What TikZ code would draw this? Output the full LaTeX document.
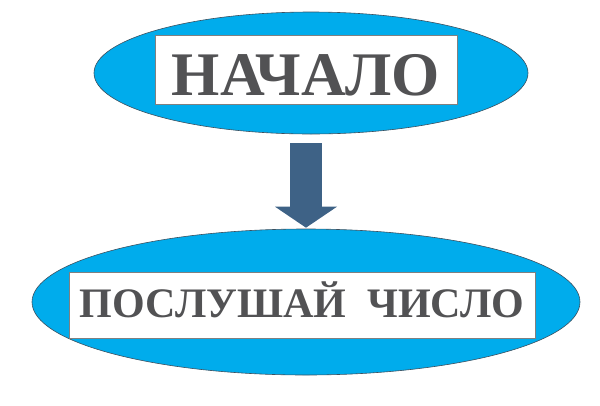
\documentclass[tikz,border=0pt]{standalone}
\usepackage{fontspec}
\setmainfont{Liberation Serif}
\usetikzlibrary{shapes.geometric,arrows.meta,positioning}
\definecolor{skyfill}{RGB}{0,172,236}
\definecolor{rimgray}{RGB}{60,80,95}
\definecolor{arrowblue}{RGB}{62,98,134}
\definecolor{inkgray}{RGB}{82,82,84}

\begin{document}
\begin{tikzpicture}[x=1pt,y=-1pt,
  oval/.style={ellipse, draw=rimgray, line width=0.6pt, fill=skyfill, inner sep=0pt},
  plate/.style={rectangle, draw=gray, line width=0.6pt, fill=white, inner sep=0pt, anchor=base, text=inkgray},
  flow/.style={arrowblue, line width=32pt, -{Triangle[width=61pt,length=21pt]}}]
\useasboundingbox (0,0) rectangle (600,405);
\node[oval, minimum width=434pt, minimum height=122pt] (start) at (311,73) {};
\node[oval, minimum width=548pt, minimum height=146pt] (listen) at (306,302) {};
\node[plate, minimum width=302pt, text height=60pt, text depth=9pt, font=\bfseries\fontsize{62}{62}\selectfont] (startlabel) at (306,95) {НАЧАЛО};
\node[plate, minimum width=466pt, text height=45pt, text depth=21pt, font=\bfseries\fontsize{42}{42}\selectfont] (listenlabel) at (302,317) {ПОСЛУШАЙ\ \ ЧИСЛО};
\draw[flow, shorten <=9pt, shorten >=1pt] (listen.north |- start.south) -- (listen.north);
\end{tikzpicture}
\end{document}
